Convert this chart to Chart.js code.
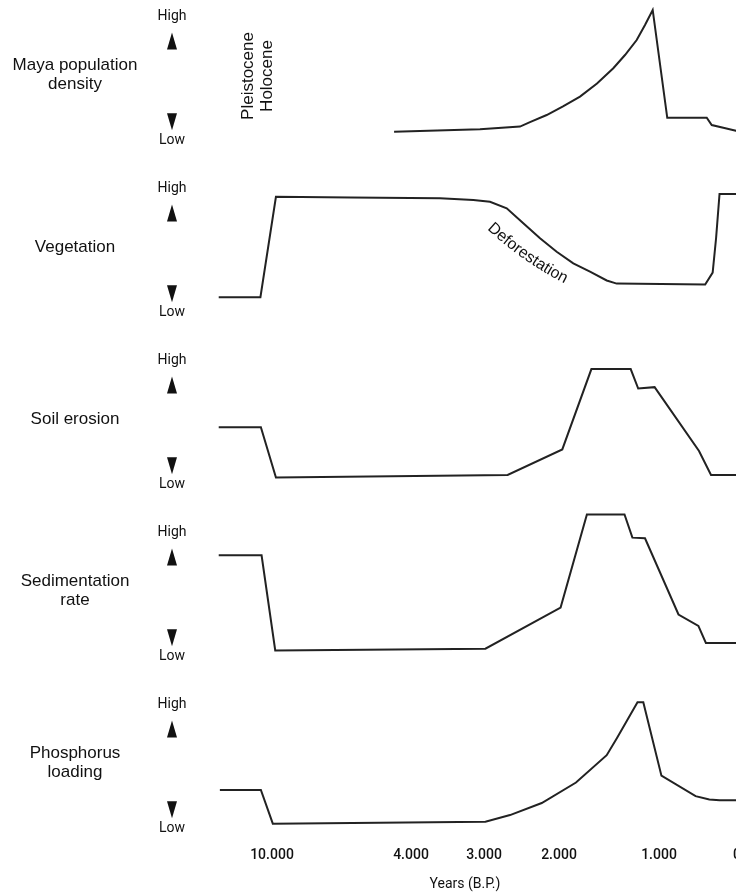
<!DOCTYPE html>
<html>
<head>
<meta charset="utf-8">
<script src="https://cdn.jsdelivr.net/npm/chart.js@4.4.1/dist/chart.umd.min.js"></script>
<style>
  html, body { margin: 0; padding: 0; background: #fff; overflow: hidden; }
  #wrap { position: relative; width: 736px; height: 893px; overflow: hidden; }
  #chart { position: absolute; left: 0; top: -15px; }
</style>
</head>
<body>
<div id="wrap"><canvas id="chart" width="800" height="908"></canvas></div>
<script>
// Panel names, top to bottom
const panelNames = [
    ['Maya population', 'density'],
    ['Vegetation'],
    ['Soil erosion'],
    ['Sedimentation', 'rate'],
    ['Phosphorus', 'loading']
];

// Years B.P. and relative level (0 = bottom, 10 = top of a panel)
const mayaYears = [4730, 3055, 2520, 2387, 2164, 1960, 1790, 1620, 1457, 1340, 1223, 1140, 1063, 894, 388, 324, 176, 0];
const mayaLevels = [1.47, 1.61, 1.77, 2.03, 2.44, 2.94, 3.51, 4.27, 5.16, 5.93, 6.80, 7.67, 8.55, 2.28, 2.28, 1.86, 1.70, 1.51];

const vegYears = [12300, 10500, 9830, 6600, 3603, 3146, 2920, 2697, 2476, 2253, 2031, 1857, 1690, 1523, 1423, 408, 312, 268, 224, 0];
const vegLevels = [1.85, 1.85, 7.69, 7.65, 7.60, 7.50, 7.40, 7.02, 6.15, 5.27, 4.49, 3.82, 3.33, 2.82, 2.64, 2.59, 3.28, 5.29, 7.85, 7.85];

const soilYears = [12300, 10480, 9830, 2685, 1967, 1676, 1283, 1208, 1044, 487, 333, 0];
const soilLevels = [4.29, 4.29, 1.37, 1.51, 3.00, 7.67, 7.67, 6.54, 6.62, 2.91, 1.51, 1.51];

const sedYears = [12300, 10450, 9860, 2981, 1984, 1721, 1345, 1266, 1140, 750, 495, 399, 0];
const sedLevels = [6.84, 6.84, 1.31, 1.41, 3.80, 9.22, 9.22, 7.87, 7.83, 3.40, 2.74, 1.75, 1.75];

const phosYears = [12250, 10480, 9965, 2981, 2653, 2230, 1830, 1523, 1420, 1215, 1157, 969, 531, 355, 224, 0];
const phosLevels = [3.20, 3.20, 1.24, 1.35, 1.74, 2.44, 3.63, 5.22, 6.22, 8.30, 8.30, 4.03, 2.84, 2.64, 2.60, 2.60];

// Tick years on the (broken) time axis
const tickYears = [10000, 4000, 3000, 2000, 1000, 0];
const tickLabels = ['10.000', '4.000', '3.000', '2.000', '1.000', '0'];

const series = [
    [mayaYears, mayaLevels],
    [vegYears, vegLevels],
    [soilYears, soilLevels],
    [sedYears, sedLevels],
    [phosYears, phosLevels]
];

// axis distance between neighbouring ticks, the time axis is not to scale
const tickSpacing = [1.39, 0.73, 0.75, 1.0, 0.78];
const tickPos = [0];
tickSpacing.forEach((d, i) => tickPos.push(tickPos[i] + d));

function yearToAxis(year) {
    if (year >= tickYears[0]) {
        return -(year - tickYears[0]) / (tickYears[0] - tickYears[1]) * tickSpacing[0];
    }
    for (let i = 0; i < tickYears.length - 1; i++) {
        if (year >= tickYears[i + 1]) {
            return tickPos[i] + (tickYears[i] - year) / (tickYears[i] - tickYears[i + 1]) * tickSpacing[i];
        }
    }
    return tickPos[tickPos.length - 1];
}

const PANELS = panelNames.length;
const SPAN = 10;
const INK = '#111';
const LINE = '#222';
const LABEL_FONT = '17px "Liberation Sans", Arial, sans-serif';
const SMALL_FONT = '14px Roboto, "Liberation Sans", sans-serif';

const datasets = series.map(([years, levels], k) => ({
    label: panelNames[k].join(' '),
    data: years.map((yr, i) => ({ x: yearToAxis(yr), y: (PANELS - 1 - k) * SPAN + levels[i] })),
    borderColor: LINE,
    borderWidth: 2,
    pointRadius: 0,
    tension: 0,
    fill: false
}));

function triangle(ctx, cx, cy, up) {
    const hw = 5, hh = 8.5;
    ctx.beginPath();
    if (up) {
        ctx.moveTo(cx, cy - hh);
        ctx.lineTo(cx + hw, cy + hh);
        ctx.lineTo(cx - hw, cy + hh);
    } else {
        ctx.moveTo(cx - hw, cy - hh);
        ctx.lineTo(cx + hw, cy - hh);
        ctx.lineTo(cx, cy + hh);
    }
    ctx.closePath();
    ctx.fill();
}

const panelLabels = {
    id: 'panelLabels',
    afterDraw(chart) {
        const ctx = chart.ctx;
        const xs = chart.scales.x;
        const ys = chart.scales.y;
        const area = chart.chartArea;
        const yPix = (k, level) => ys.getPixelForValue((PANELS - 1 - k) * SPAN + level);

        ctx.save();
        ctx.fillStyle = INK;
        ctx.textAlign = 'center';
        ctx.textBaseline = 'middle';

        for (let k = 0; k < PANELS; k++) {
            const markX = area.left + 42;
            ctx.font = SMALL_FONT;
            ctx.fillText('High', markX, yPix(k, 8.14));
            ctx.fillText('Low', markX, yPix(k, 0.95));
            triangle(ctx, markX, yPix(k, 6.75), true);
            triangle(ctx, markX, yPix(k, 2.05), false);

            ctx.font = LABEL_FONT;
            const lines = panelNames[k];
            const cy = yPix(k, 4.75);
            lines.forEach((t, i) => {
                ctx.fillText(t, area.left - 55, cy + (i - (lines.length - 1) / 2) * 19);
            });
        }

        // Pleistocene / Holocene boundary note
        ctx.font = LABEL_FONT;
        [['Pleistocene', 11036], ['Holocene', 10216]].forEach(([t, yr]) => {
            ctx.save();
            ctx.translate(xs.getPixelForValue(yearToAxis(yr)), yPix(0, 4.71));
            ctx.rotate(-Math.PI / 2);
            ctx.fillText(t, 0, 0);
            ctx.restore();
        });

        // "Deforestation" written along the vegetation curve
        const word = 'Deforestation';
        ctx.font = '16px "Liberation Sans", Arial, sans-serif';
        ctx.textAlign = 'left';
        ctx.textBaseline = 'alphabetic';
        const total = ctx.measureText(word).width;
        let x = xs.getPixelForValue(yearToAxis(2960));
        let y = yPix(1, 5.81);
        let dist = 0;
        const a0 = 43, a1 = 27;
        for (const ch of word) {
            const w = ctx.measureText(ch).width;
            const ang = (a0 + (a1 - a0) * (dist + w / 2) / total) * Math.PI / 180;
            ctx.save();
            ctx.translate(x, y);
            ctx.rotate(ang);
            ctx.fillText(ch, 0, 0);
            ctx.restore();
            x += w * Math.cos(ang);
            y += w * Math.sin(ang);
            dist += w;
        }
        ctx.restore();
    }
};

new Chart(document.getElementById('chart').getContext('2d'), {
    type: 'line',
    data: { datasets: datasets },
    options: {
        responsive: false,
        animation: false,
        layout: { padding: { left: 130, right: 0, top: 0, bottom: 0 } },
        plugins: {
            legend: { display: false },
            tooltip: { enabled: false }
        },
        scales: {
            x: {
                type: 'linear',
                min: -1.42,
                max: 5.28,
                grid: { display: false, drawTicks: false },
                border: { display: false },
                afterBuildTicks: (axis) => { axis.ticks = tickPos.map(v => ({ value: v })); },
                afterFit: (axis) => { axis.height = 48; },
                ticks: {
                    autoSkip: false,
                    maxRotation: 0,
                    padding: 2,
                    color: INK,
                    font: { family: 'Roboto', size: 14, weight: '500' },
                    callback: (value, index) => tickLabels[index]
                },
                title: {
                    display: true,
                    text: 'Years (B.P.)',
                    color: INK,
                    font: { family: 'Roboto', size: 14 },
                    padding: { top: 0, bottom: 0 }
                }
            },
            y: {
                display: false,
                min: 0,
                max: PANELS * SPAN
            }
        }
    },
    plugins: [panelLabels]
});
</script>
</body>
</html>
